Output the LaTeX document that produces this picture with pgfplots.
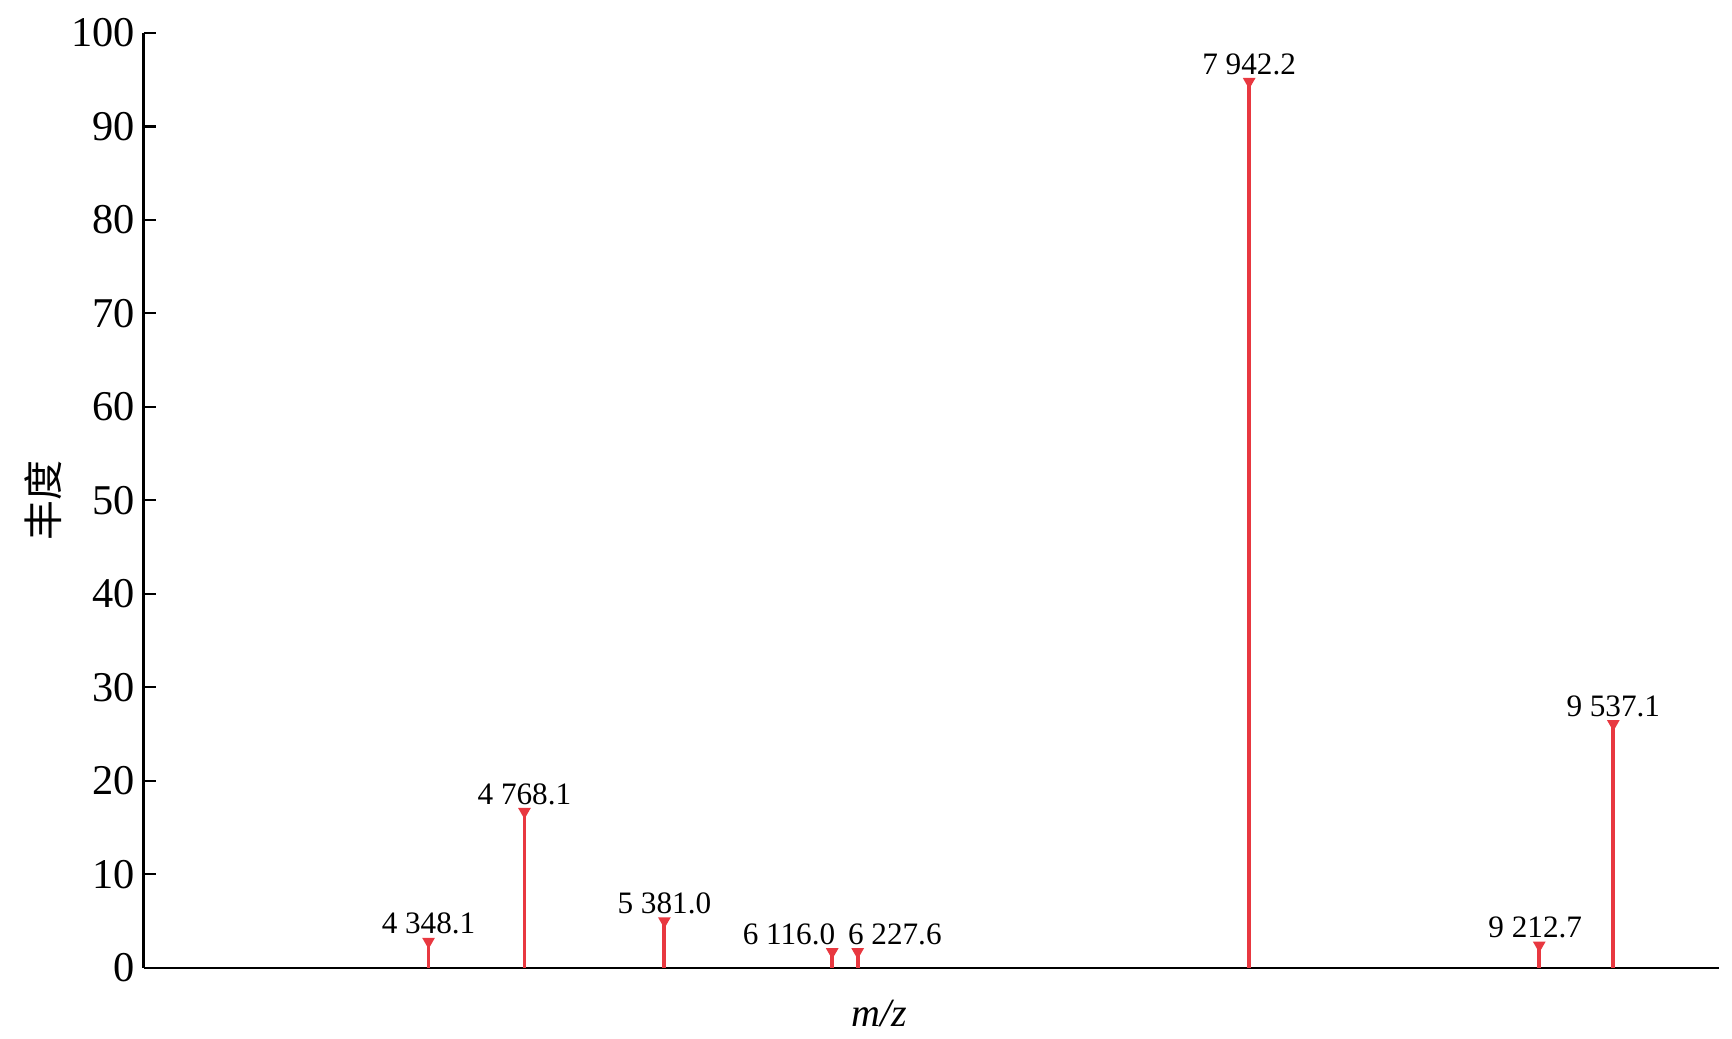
\documentclass[border=0pt]{standalone}
\usepackage{fontspec}
\setmainfont{Liberation Serif}
\newfontfamily\cjk{Noto Sans CJK SC}
\usepackage{pgfplots}
\pgfplotsset{compat=1.18}
\definecolor{stemred}{RGB}{232,56,64}

\pgfplotstableread{
mz      ab    dx
4348.1  2.8   0
4768.1  16.7  0
5381.0  5.0   0
6116.0  1.7   -10.8
6227.6  1.7   9.3
7942.2  94.8  0
9212.7  2.4   -1
9537.1  26.1  0
}\peaks

\begin{document}
\begin{tikzpicture}
\begin{axis}[
    width=393.9pt, height=233.7pt,
    scale only axis,
    xmin=3100, xmax=10000,
    ymin=0, ymax=100,
    axis x line*=bottom,
    axis y line*=left,
    axis line style={line width=0.55pt, -},
    xtick=\empty,
    ytick={0,10,...,100},
    tick style={black, line width=0.55pt},
    major tick length=3pt,
    tick align=inside,
    /pgf/number format/assume math mode=true,
    yticklabel style={font=\fontsize{10.6pt}{12pt}\selectfont, inner sep=2pt},
    ylabel={\cjk 丰度},
    ylabel style={at={(axis description cs:0,0.5)}, anchor=center,
        yshift=25pt, font=\fontsize{10pt}{12pt}\selectfont},
    xlabel={\textit{m/z}},
    xlabel style={at={(axis description cs:0.467,0)}, anchor=center,
        yshift=-11.4pt, font=\fontsize{10pt}{12pt}\selectfont},
    clip=false,
]
\coordinate (bl) at (rel axis cs:0,0);
\coordinate (tr) at (rel axis cs:1,1);
\addplot[ycomb, color=stemred, line width=0.95pt,
    mark=triangle*, mark size=0.9pt, mark options={rotate=180, fill=stemred},
    point meta=x,
    visualization depends on={\thisrow{dx} \as \dx},
    nodes near coords,
    nodes near coords style={black, font=\fontsize{7.8pt}{9pt}\selectfont,
        anchor=south, inner sep=1pt, yshift=0.3pt, xshift=\dx pt,
        /pgf/number format/.cd, fixed, fixed zerofill, precision=1,
        1000 sep={\ }, assume math mode=true},
] table[x=mz, y=ab] {\peaks};
\end{axis}
\pgfresetboundingbox
\path[use as bounding box] ([xshift=-35.9pt, yshift=-17.6pt]bl) rectangle ([xshift=3.25pt, yshift=8.25pt]tr);
\end{tikzpicture}
\end{document}
